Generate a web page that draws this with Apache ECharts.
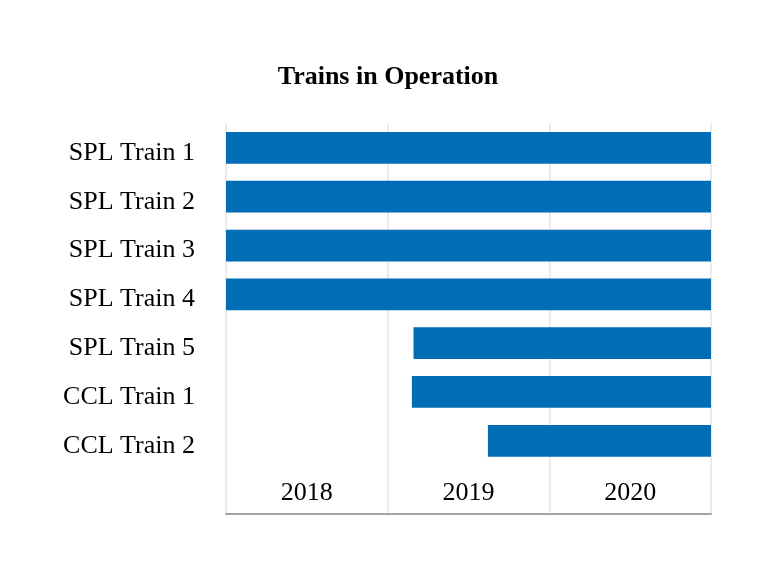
<!DOCTYPE html>
<html>
<head>
<meta charset="utf-8">
<script src="https://cdn.jsdelivr.net/npm/echarts@6/dist/echarts.min.js"></script>
<style>
html,body{margin:0;padding:0;background:#fff;}
#chart{width:776px;height:578px;}
</style>
</head>
<body>
<div id="chart"></div>
<script>
var categories = ['SPL Train 1','SPL Train 2','SPL Train 3','SPL Train 4','SPL Train 5','CCL Train 1','CCL Train 2',''];
var startYears = [2018, 2018, 2018, 2018, 2019.16, 2019.15, 2019.62];
var endYears = [2021, 2021, 2021, 2021, 2021, 2021, 2021];
var yearLabels = ['2018','2019','2020'];

var FONT = "'Liberation Serif','Times New Roman',serif";
var chart = echarts.init(document.getElementById('chart'), null, {renderer:'canvas'});
var durations = endYears.map(function(e,i){ return e - startYears[i]; });

chart.setOption({
  animation:false,
  backgroundColor:'#ffffff',
  title:{
    text:'Trains in Operation',
    left:'center',
    top:59,
    textStyle:{fontFamily:FONT,fontSize:26,fontWeight:'bold',color:'#000'}
  },
  grid:{left:226,right:65,top:123.5,bottom:64,containLabel:false},
  xAxis:[{
    type:'value',min:2018,max:2021,interval:1,
    axisLine:{show:false},axisTick:{show:false},axisLabel:{show:false},
    splitLine:{show:true,lineStyle:{color:'#e4e4e4',width:1.5}}
  },{
    type:'category',position:'bottom',data:yearLabels,boundaryGap:true,
    axisLine:{show:true,lineStyle:{color:'#a3a3a3',width:2}},
    axisTick:{show:false},splitLine:{show:false},
    axisLabel:{inside:true,margin:8,fontFamily:FONT,fontSize:26,color:'#000'}
  }],
  yAxis:{
    type:'category',inverse:true,data:categories,
    axisLine:{show:false},axisTick:{show:false},splitLine:{show:false},
    axisLabel:{
      margin:31,
      formatter:function(v){ return v ? '{a|' + v + '}' : ''; },
      rich:{a:{fontFamily:FONT,fontSize:26,color:'#000',padding:[10,0,0,0]}}
    }
  },
  series:[{
    type:'bar',stack:'t',xAxisIndex:0,data:startYears,
    itemStyle:{color:'rgba(0,0,0,0)'},barWidth:'65%',silent:true
  },{
    type:'bar',stack:'t',xAxisIndex:0,data:durations,
    itemStyle:{color:'#006db6'},barWidth:'65%'
  }]
});
</script>
</body>
</html>
